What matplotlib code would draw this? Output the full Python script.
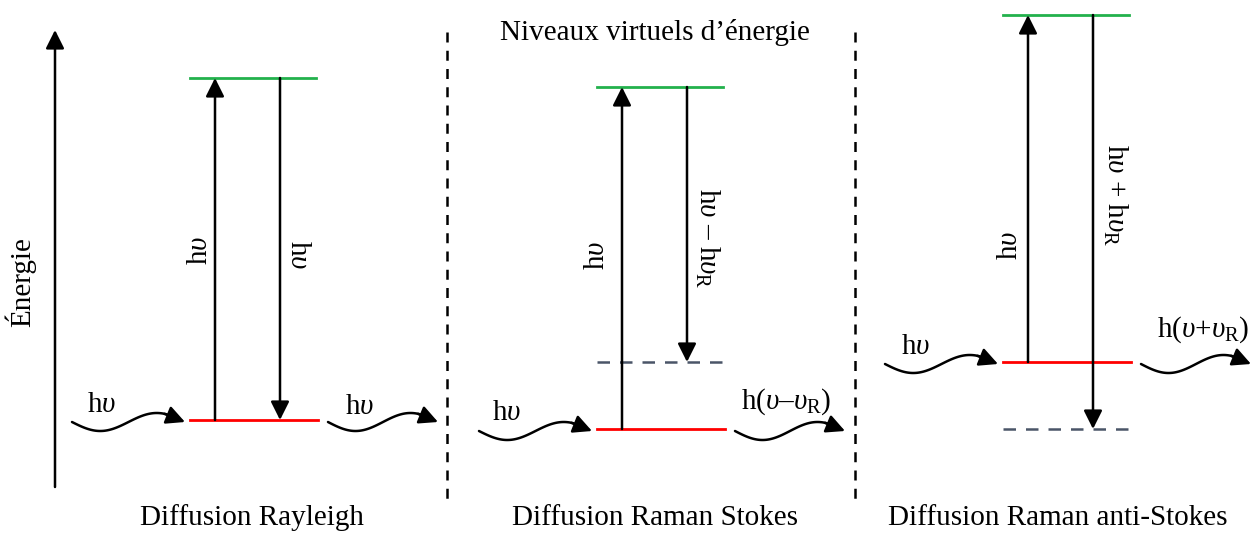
import numpy as np
import matplotlib.pyplot as plt

plt.rcParams['font.family'] = ['Liberation Serif', 'DejaVu Serif']
plt.rcParams['mathtext.fontset'] = 'custom'
plt.rcParams['mathtext.rm'] = 'Liberation Serif'
plt.rcParams['mathtext.it'] = 'Liberation Serif:italic'

# panel titles and level heights (drawing units, top = 0)
titles = ['Diffusion Rayleigh', 'Diffusion Raman Stokes', 'Diffusion Raman anti-Stokes']
virtual_level = [78, 87, 15]
ground_level = [420, 429, 362]
final_level = [None, 362, 429]
level_left = [190, 597, 1003]
up_labels = [r'h$\mathit{υ}$', r'h$\mathit{υ}$', r'h$\mathit{υ}$']
down_labels = [r'h$\mathit{υ}$', r'h$\mathit{υ}$ – h$\mathit{υ}_\mathrm{R}$',
               r'h$\mathit{υ}$ + h$\mathit{υ}_\mathrm{R}$']
in_labels = [r'h$\mathit{υ}$', r'h$\mathit{υ}$', r'h$\mathit{υ}$']
out_labels = [r'h$\mathit{υ}$', r'h($\mathit{υ}$–$\mathit{υ}_\mathrm{R}$)',
              r'h($\mathit{υ}$+$\mathit{υ}_\mathrm{R}$)']

fig = plt.figure(figsize=(12.5, 5.33), dpi=100)
ax = fig.add_axes([0, 0, 1, 1])
ax.set_xlim(0, 1250)
ax.set_ylim(533, 0)
ax.axis('off')

fs = 21


def arrow(x0, y0, x1, y1):
    ax.annotate('', xy=(x1, y1), xytext=(x0, y0), annotation_clip=False,
                arrowprops=dict(arrowstyle='-|>', color='black', lw=1.8,
                                mutation_scale=28, shrinkA=0, shrinkB=0))


def wavy(x0, y0, length):
    t = np.linspace(0, 0.84, 80)
    xs = x0 + t * length
    ys = y0 + 9 * np.sin(2 * np.pi * t)
    ax.plot(xs, ys, color='black', lw=1.8, solid_capstyle='round')
    arrow(xs[-3], ys[-3], x0 + length, y0)


# energy axis
arrow(55, 487, 55, 30)
ax.text(20, 282, 'Énergie', rotation=90, ha='center', va='center', fontsize=fs)

# separators
for xs in [447, 855]:
    ax.plot([xs, xs], [32, 500], color='black', lw=1.8, ls=(0, (4, 3.3)))
ax.text(655, 33, 'Niveaux virtuels d’énergie', ha='center', va='center', fontsize=fs)

up_pos = [(200, 250), (597, 255), (1010, 245)]
down_pos = [(298, 255), (707, 238), (1115, 195)]
in_pos = [(102, 405), (507, 413), (916, 347)]
out_pos = [(360, 407), (786, 402), (1203, 330)]
title_x = [252, 655, 1058]

for i in range(3):
    xl = level_left[i]
    w = 126
    ax.plot([xl, xl + w], [virtual_level[i]] * 2, color='#22b14c', lw=2)
    ax.plot([xl, xl + w + 2], [ground_level[i]] * 2, color='#ff0000', lw=2)
    if final_level[i] is not None:
        ax.plot([xl, xl + w], [final_level[i]] * 2, color='#4a5568', lw=1.8,
                ls=(0, (5, 4)))
        y_end = final_level[i]
    else:
        y_end = ground_level[i]
    xu = xl + 25
    xd = xl + 90
    arrow(xu, ground_level[i], xu, virtual_level[i])
    arrow(xd, virtual_level[i], xd, y_end)
    ax.text(*up_pos[i], up_labels[i], rotation=90, ha='center', va='center', fontsize=fs)
    ax.text(*down_pos[i], down_labels[i], rotation=-90, ha='center', va='center', fontsize=fs)

    # incoming / outgoing photons
    yw = ground_level[i] + 2
    wavy(xl - 118, yw, 113)
    ax.text(*in_pos[i], in_labels[i], ha='center', va='center', fontsize=fs)
    wavy(xl + w + 12, yw, 110)
    ax.text(*out_pos[i], out_labels[i], ha='center', va='center', fontsize=fs)

    ax.text(title_x[i], 518, titles[i], ha='center', va='center', fontsize=fs)

fig.savefig('out.png', dpi=100)
